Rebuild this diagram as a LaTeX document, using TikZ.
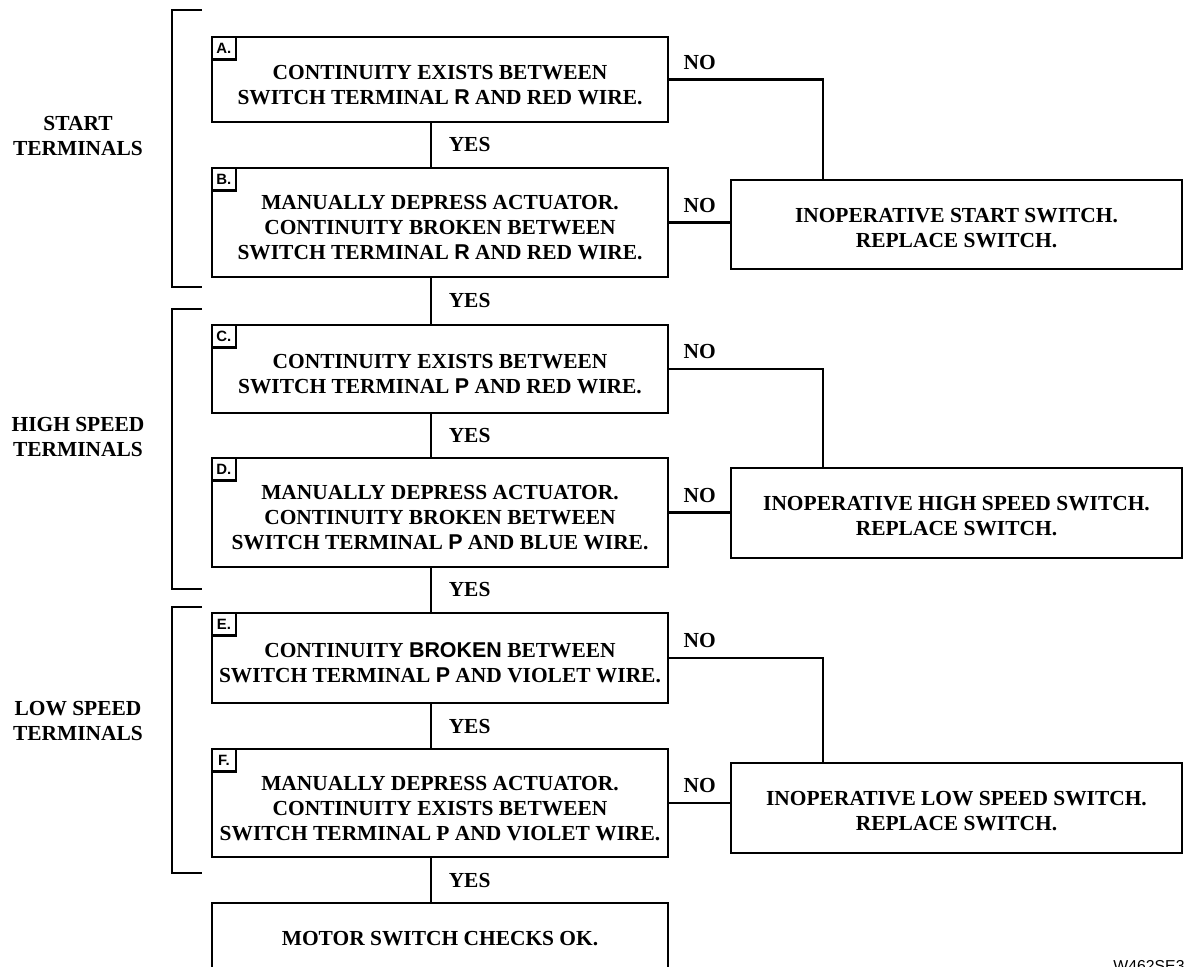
\documentclass[tikz,border=0pt]{standalone}
\usepackage{fontspec}
\setmainfont{Liberation Serif}
\newfontfamily\blockfont{Liberation Sans}
\newcommand{\blk}[1]{{\blockfont\bfseries #1}}
\newcommand{\testa}{\rule{0pt}{14pt}}
\newcommand{\testb}{\rule{0pt}{12pt}}
\tikzset{
  prova/.style={draw, line width=1.6pt, minimum width=9.12cm, align=center, inner sep=0pt, font=\bfseries\fontsize{12.2}{14.2}\selectfont},
  esito/.style={prova, minimum width=9.02cm},
  sigla/.style={draw, line width=1.4pt, anchor=north west, minimum width=0.48cm, minimum height=0.45cm, inner sep=0pt, font=\blockfont\bfseries\fontsize{8.5}{8.5}\selectfont},
  filo/.style={line width=1.2pt},
  staffa/.style={line width=1.4pt},
  rispSi/.style={font=\bfseries\fontsize{12.2}{14}\selectfont, inner sep=2pt, midway, right, xshift=7.5pt},
  rispNo/.style={font=\bfseries\fontsize{12.2}{14}\selectfont, inner sep=2pt, at start, anchor=south west, xshift=5.5pt, yshift=3pt},
  gruppo/.style={align=center, font=\bfseries\fontsize{12.2}{14.2}\selectfont},
}
\begin{document}
\begin{tikzpicture}[x=0.02cm, y=-0.02cm]
\useasboundingbox (0,0) rectangle (1185,966);
% prove
\node[prova, minimum height=1.7cm, label={[sigla]north west:A.}] (provaA) at (440,79.5)
  {\testa CONTINUITY EXISTS BETWEEN\\SWITCH TERMINAL \blk{R} AND RED WIRE.};
\node[prova, minimum height=2.18cm, label={[sigla]north west:B.}] (provaB) at (440,222.5)
  {\testa MANUALLY DEPRESS ACTUATOR.\\CONTINUITY BROKEN BETWEEN\\SWITCH TERMINAL \blk{R} AND RED WIRE.};
\node[prova, minimum height=1.76cm, label={[sigla]north west:C.}] (provaC) at (440,369)
  {\testa CONTINUITY EXISTS BETWEEN\\SWITCH TERMINAL \blk{P} AND RED WIRE.};
\node[prova, minimum height=2.18cm, label={[sigla]north west:D.}] (provaD) at (440,512.5)
  {\testa MANUALLY DEPRESS ACTUATOR.\\CONTINUITY BROKEN BETWEEN\\SWITCH TERMINAL \blk{P} AND BLUE WIRE.};
\node[prova, minimum height=1.8cm, label={[sigla]north west:E.}] (provaE) at (440,658)
  {\testa CONTINUITY \blk{BROKEN} BETWEEN\\SWITCH TERMINAL \blk{P} AND VIOLET WIRE.};
\node[prova, minimum height=2.16cm, label={[sigla]north west:F.}] (provaF) at (440,803)
  {\testa MANUALLY DEPRESS ACTUATOR.\\CONTINUITY EXISTS BETWEEN\\SWITCH TERMINAL P AND VIOLET WIRE.};
\node[prova, minimum height=1.44cm] (provaOK) at (440,939) {MOTOR SWITCH CHECKS OK.};
% esiti
\node[esito, minimum height=1.78cm] (esitoStart) at (956.5,224.5) {\testb INOPERATIVE START SWITCH.\\REPLACE SWITCH.};
\node[esito, minimum height=1.8cm] (esitoHigh) at (956.5,513) {\testb INOPERATIVE HIGH SPEED SWITCH.\\REPLACE SWITCH.};
\node[esito, minimum height=1.8cm] (esitoLow) at (956.5,808) {\testb INOPERATIVE LOW SPEED SWITCH.\\REPLACE SWITCH.};
% collegamenti
\coordinate (asse) at (431,0);
\coordinate (discesa) at (823,0);
\draw[filo] (provaA.south -| asse) -- node[rispSi] {YES} (provaB.north -| asse);
\draw[filo] (provaB.south -| asse) -- node[rispSi] {YES} (provaC.north -| asse);
\draw[filo] (provaC.south -| asse) -- node[rispSi] {YES} (provaD.north -| asse);
\draw[filo] (provaD.south -| asse) -- node[rispSi] {YES} (provaE.north -| asse);
\draw[filo] (provaE.south -| asse) -- node[rispSi] {YES} (provaF.north -| asse);
\draw[filo] (provaF.south -| asse) -- node[rispSi] {YES} (provaOK.north -| asse);
\draw[filo] (provaA.east) -- node[rispNo] {NO} (provaA.east -| discesa) -- (esitoStart.north -| discesa);
\draw[filo] (provaB.east) -- node[rispNo] {NO} (provaB.east -| esitoStart.west);
\draw[filo] (provaC.east) -- node[rispNo] {NO} (provaC.east -| discesa) -- (esitoHigh.north -| discesa);
\draw[filo] (provaD.east) -- node[rispNo] {NO} (provaD.east -| esitoHigh.west);
\draw[filo] (provaE.east) -- node[rispNo] {NO} (provaE.east -| discesa) -- (esitoLow.north -| discesa);
\draw[filo] (provaF.east) -- node[rispNo] {NO} (provaF.east -| esitoLow.west);
% parentesi
\draw[staffa] (202,10) -- (172,10) -- (172,287) -- (202,287);
\draw[staffa] (202,309) -- (172,309) -- (172,589) -- (202,589);
\draw[staffa] (202,607) -- (172,607) -- (172,873) -- (202,873);
\node[gruppo] (grpStart) at (78,136) {START\\TERMINALS};
\node[gruppo] (grpHigh) at (78,437) {HIGH SPEED\\TERMINALS};
\node[gruppo] (grpLow) at (78,721) {LOW SPEED\\TERMINALS};
% codice
\node[font=\blockfont\fontsize{9}{9}\selectfont, anchor=base west, inner sep=0pt] (codice) at (1113,971) {W462SE3};
\end{tikzpicture}
\end{document}
